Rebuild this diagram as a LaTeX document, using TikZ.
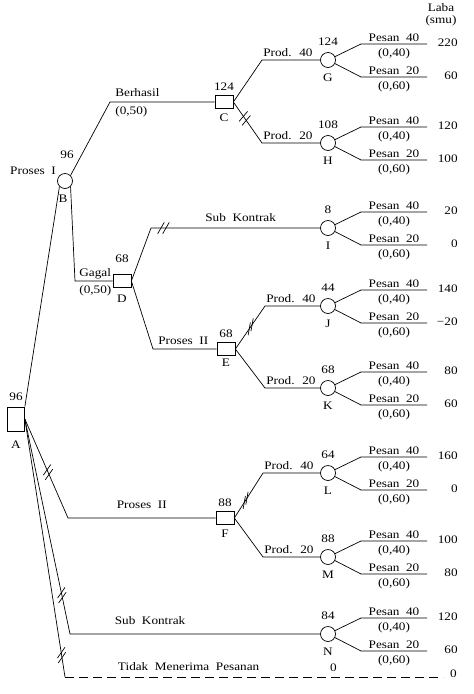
\documentclass[tikz,border=0pt]{standalone}
\usepackage{fontspec}
\setmainfont{Liberation Serif}[FakeStretch=1.15, WordSpace=2]
\usetikzlibrary{positioning,decorations.markings}

\tikzstyle{keputusan} = [rectangle, draw=black, minimum width=18pt, minimum height=13pt, inner sep=0pt]
\tikzstyle{peluang} = [circle, draw=black, minimum size=15pt, inner sep=0pt]
\tikzstyle{teks} = [inner sep=1pt, font=\fontsize{11.5}{13}\selectfont]
\tikzset{putus/.style 2 args={postaction={decorate}, decoration={markings,
  mark=at position #1 with {\coordinate (m1) at (-2.5,0); \coordinate (m2) at (2.5,0);
    \pgftransformresetnontranslations
    \draw ([shift={(#2:6.5pt)}]m1) -- ([shift={(#2+180:6.5pt)}]m1)
          ([shift={(#2:6.5pt)}]m2) -- ([shift={(#2+180:6.5pt)}]m2);}}}}

\begin{document}
\begin{tikzpicture}[x=1pt, y=-1pt, line width=0.7pt, every node/.style={teks}]
  \useasboundingbox (0,0) rectangle (474,694);

  % simpul keputusan dan peluang
  \node (A) [keputusan, minimum width=17pt, minimum height=24pt] at (16,419) {};
  \node (B) [peluang] at (65,181) {};
  \node (C) [keputusan] at (224,102) {};
  \node (D) [keputusan] at (122,281) {};
  \node (E) [keputusan] at (226,349) {};
  \node (F) [keputusan] at (225,518) {};
  \node (G) [peluang] at (328,60) {};
  \node (H) [peluang] at (328,143) {};
  \node (I) [peluang] at (328,228) {};
  \node (J) [peluang] at (328,306) {};
  \node (K) [peluang] at (328,388) {};
  \node (L) [peluang] at (328,473) {};
  \node (M) [peluang] at (328,557) {};
  \node (N) [peluang] at (328,634) {};

  \node [above=5pt of A] {96};   \node [below=8pt of A] {A};
  \node [above=13pt of B, xshift=2pt] {96}; \node [below=5pt of B, xshift=-2pt] {B};
  \node [left=0pt of B, yshift=10pt] {Proses I};
  \node [above=3pt of C] {124};  \node [below=4pt of C] {C};
  \node [above=10pt of D] {68};  \node [below=6pt of D] {D};
  \node [above=3pt of E] {68};   \node [below=2pt of E] {E};
  \node [above=3pt of F] {88};   \node [below=4pt of F] {F};

  \node (Laba) at (441,8) {Laba};
  \node (smu) [below=1pt of Laba] {(smu)};

  % titik belok
  \coordinate (bC) at (110,102);
  \coordinate (bD) at (75,281);
  \coordinate (cG) at (262,60);
  \coordinate (cH) at (262,143);
  \coordinate (dI) at (151,228);
  \coordinate (dE) at (153,349);
  \coordinate (eJ) at (265,306);
  \coordinate (eK) at (265,388);
  \coordinate (aF) at (68,518);
  \coordinate (fL) at (263,473);
  \coordinate (fM) at (263,557);
  \coordinate (aN) at (70,634);
  \coordinate (aT) at (65,677);
  \coordinate (tT) at (443,677);

  % cabang
  \draw (A.north east) -- (B.south west);
  \draw (B.north east) -- (bC) -- (C);
  \draw (B.south east) -- (bD) -- (D);
  \node [above right=4pt and 4pt of bC] {Berhasil};
  \node [below right=3pt and 4pt of bC] {(0,50)};
  \node [above right=1pt and 3pt of bD] {Gagal};
  \node [below right=3pt and 3pt of bD] {(0,50)};

  \draw (C.east) -- (cG) -- (G);
  \draw [putus={20pt}{50}] (C.east) -- (cH) -- (H);
  \node [above right=2pt and 0pt of cG] {Prod. 40};
  \node [above right=2pt and 0pt of cH] {Prod. 20};

  \draw [putus={69pt}{60}] (D.east) -- (dI) -- (I) node [pos=0.53, above=5pt] {Sub Kontrak};
  \draw (D.east) -- (dE) -- (E);
  \node [above right=3pt and 4pt of dE] {Proses II};

  \draw [putus={27pt}{80}] (E.east) -- (eJ) -- (J);
  \draw (E.east) -- (eK) -- (K);
  \node [above right=2pt and 0pt of eJ] {Prod. 40};
  \node [above right=2pt and 0pt of eK] {Prod. 20};

  \draw [putus={58pt}{55}] (A.east) -- (aF) -- (F) node [midway, above=8pt] {Proses II};
  \draw [putus={21pt}{80}] (F.east) -- (fL) -- (L);
  \draw (F.east) -- (fM) -- (M);
  \node [above right=2pt and 0pt of fL] {Prod. 40};
  \node [above right=2pt and 0pt of fM] {Prod. 20};

  \draw [putus={180pt}{55}] (A.east) -- (aN) -- (N) node [pos=0.32, above=8pt] {Sub Kontrak};
  \draw [putus={239pt}{55}] (A.east) -- (aT);
  \draw [dash pattern=on 9pt off 5pt] (aT) -- (tT)
    node [pos=0.327, above=5pt] {Tidak Menerima Pesanan}
    node [pos=0.71, above=4pt] {0};
  \node [anchor=east] at ([shift={(15,-3)}]tT) {0};

  % cabang pesanan
  \foreach \n/\nilai/\atas/\bawah in {G/124/220/60, H/108/120/100, I/8/20/0, J/44/140/−20,
      K/68/80/60, L/64/160/0, M/88/100/80, N/84/120/60} {
    \coordinate (\n-a) at ([shift={(33,-16)}]\n.center);
    \coordinate (\n-b) at ([shift={(99,-16)}]\n.center);
    \coordinate (\n-c) at ([shift={(33,17)}]\n.center);
    \coordinate (\n-d) at ([shift={(99,17)}]\n.center);
    \node [above=5pt of \n] {\nilai};
    \node [below=5pt of \n] {\n};
    \draw (\n) -- (\n-a) -- (\n-b)
      node [midway, above=1pt] {Pesan 40} node [midway, below=3pt] {(0,40)};
    \draw (\n) -- (\n-c) -- (\n-d)
      node [midway, above=1pt] {Pesan 20} node [midway, below=3pt] {(0,60)};
    \node [anchor=east] at ([shift={(32,-1)}]\n-b) {\atas};
    \node [anchor=east] at ([shift={(32,-1)}]\n-d) {\bawah};
  }
\end{tikzpicture}
\end{document}
